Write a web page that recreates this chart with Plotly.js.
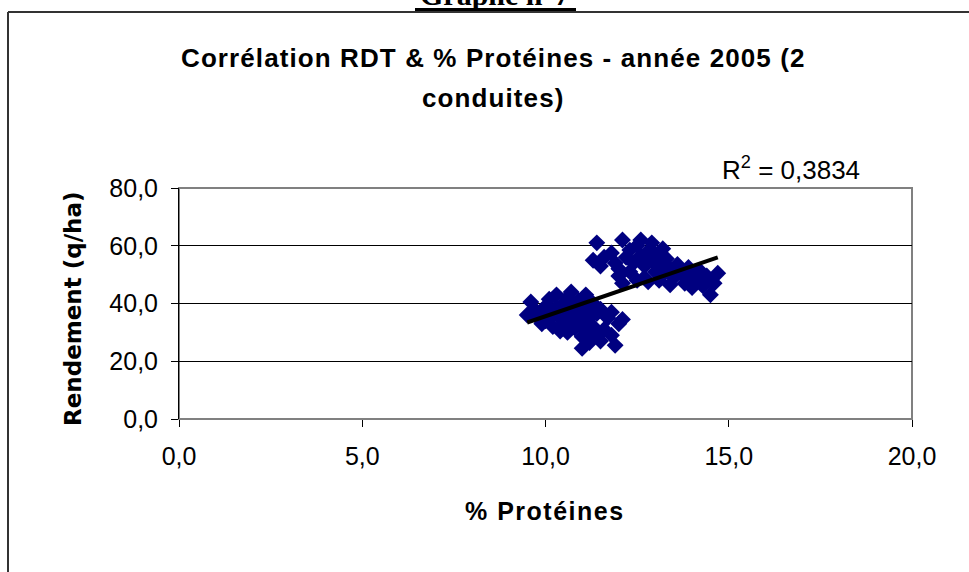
<!DOCTYPE html>
<html>
<head>
<meta charset="utf-8">
<script src="https://cdn.plot.ly/plotly-3.0.1.min.js"></script>
<style>html,body{margin:0;padding:0;background:#fff;}#chart{width:969px;height:572px;}</style>
</head>
<body>
<div id="chart"></div>
<script>
// % Protéines (x) and Rendement q/ha (y)
const proteinesA = [9.5,9.6,9.7,9.8,9.9,10.0,10.0,10.1,10.2,10.2,10.3,10.3,10.4,10.5,10.5,10.6,10.6,10.7,10.7,10.8,10.8,10.9,10.9,11.0,11.0,11.0,11.1,11.1,11.1,11.2,11.2,11.3,11.3,11.4,11.4,11.5,11.5,11.6,11.7,11.8,11.8,11.9,12.0,12.1,10.4,9.9,10.6];
const rendementA  = [36,40.5,38,35,37.5,39,34,41.5,36,32,43,38.5,35,40,33,37,42,44,34.5,39,31.5,36,41,33,28.5,24.5,43,38,30.5,35,26.5,40,32,29,36.5,38,27,31,35,37,29,25.5,33,34.5,30.5,33,30];
const proteinesB = [11.3,11.4,11.5,11.6,11.8,11.9,12.0,12.1,12.1,12.2,12.3,12.3,12.4,12.5,12.6,12.6,12.7,12.7,12.8,12.8,12.9,12.9,13.0,13.0,13.1,13.1,13.2,13.2,13.3,13.4,13.4,13.5,13.6,13.7,13.8,13.9,14.0,14.0,14.1,14.2,14.3,14.4,14.5,14.6,14.7,12.0,12.5];
const rendementB  = [55,61,53,56,57.5,54,52,62,47,56,58.5,51,54,60,62,56.5,49,53,58,47.5,61,55,51,57,48,53.5,59,50,55.5,46.5,52,49,53.5,50.5,47,52.5,45.5,50,48.5,51.5,46,49.5,43,47,50.5,49.5,48];
const xTicks = [0,5,10,15,20];
const yTicks = [0,20,40,60,80];
const pageLabel = "Graphe n°7";
const titleLine1 = "Corrélation RDT & % Protéines - année 2005 (2";
const titleLine2 = "conduites)";
const xTitle = "% Protéines";
const yTitle = "Rendement (q/ha)";
const r2Label = "R<sup>2</sup> = 0,3834";

const xs = proteinesA.concat(proteinesB);
const ys = rendementA.concat(rendementB);
// least-squares linear trend
const n = xs.length;
const mx = xs.reduce((a,b)=>a+b,0)/n, my = ys.reduce((a,b)=>a+b,0)/n;
let sxy=0, sxx=0;
for (let i=0;i<n;i++){ sxy+=(xs[i]-mx)*(ys[i]-my); sxx+=(xs[i]-mx)**2; }
const slope = sxy/sxx, icpt = my - slope*mx;
const xmin = Math.min(...xs), xmax = Math.max(...xs);
const trendX = [xmin, xmax], trendY = [icpt+slope*xmin, icpt+slope*xmax];

const W=969,H=572, L=179,R=912,T=188,B=419;
const px = v => (v-L)/(R-L);
const py = v => (B-v)/(B-T);
const font = "Liberation Sans, Arial, sans-serif";
const sp = (t, s) => '<span style="letter-spacing:' + s + 'px">' + t + '</span>';

const traces = [
  {x: xs, y: ys, type:'scatter', mode:'markers', cliponaxis:false,
   marker:{symbol:'diamond', size:13, color:'#000080', line:{width:0}}, hoverinfo:'none'},
  {x: trendX, y: trendY, type:'scatter', mode:'lines', line:{color:'#000000', width:4}, hoverinfo:'none'}
];

const layout = {
  width:W, height:H, showlegend:false,
  paper_bgcolor:'#ffffff', plot_bgcolor:'#ffffff',
  separators:', ',
  margin:{l:L, r:W-R, t:T, b:H-B, pad:0},
  font:{family:font, color:'#000'},
  xaxis:{range:[0,20], tickvals:xTicks, tickformat:'.1f', ticks:'outside', ticklen:7, tickcolor:'#000', tickwidth:1,
         showgrid:false, zeroline:false, showline:false, ticklabelstandoff:8,
         tickfont:{size:25, family:font}, fixedrange:true},
  yaxis:{range:[0,80], tickvals:yTicks, tickformat:'.1f', ticks:'outside', ticklen:7, tickcolor:'#000', tickwidth:1,
         showgrid:true, gridcolor:'#000000', gridwidth:1, zeroline:false, showline:true, linecolor:'#000', linewidth:1,
         ticklabelstandoff:8, tickfont:{size:25, family:font}, fixedrange:true},
  shapes:[
    {type:'rect', xref:'paper', yref:'paper', x0:0, x1:1, y0:0, y1:1, line:{color:'#808080', width:2}, layer:'below'},
    {type:'line', xref:'paper', yref:'paper', x0:px(8), x1:px(969), y0:py(12), y1:py(12), line:{color:'#333', width:2}},
    {type:'line', xref:'paper', yref:'paper', x0:px(8), x1:px(8), y0:py(12), y1:py(572), line:{color:'#333', width:2}},
    {type:'line', xref:'paper', yref:'paper', x0:px(415), x1:px(576), y0:py(9.5), y1:py(9.5), line:{color:'#000', width:3}}
  ],
  annotations:[
    {text:'<b>'+pageLabel+'</b>', xref:'paper', yref:'paper', x:px(495), y:py(13), xanchor:'center', yanchor:'bottom',
     showarrow:false, font:{family:'Liberation Serif, Times New Roman, serif', size:30}},
    {text:'<b>'+sp(titleLine1,1.1)+'</b>', xref:'paper', yref:'paper', x:px(493), y:py(58),
     xanchor:'center', yanchor:'middle', showarrow:false, font:{size:26, family:font}},
    {text:'<b>'+sp(titleLine2,1.1)+'</b>', xref:'paper', yref:'paper', x:px(493), y:py(98),
     xanchor:'center', yanchor:'middle', showarrow:false, font:{size:26, family:font}},
    {text:r2Label, xref:'paper', yref:'paper', x:px(720), y:py(168), xanchor:'left', yanchor:'middle',
     showarrow:false, font:{size:26, family:font}},
    {text:'<b>'+sp(xTitle,1.5)+'</b>', xref:'paper', yref:'paper', x:px(545), y:py(511), xanchor:'center', yanchor:'middle',
     showarrow:false, font:{size:25, family:font}},
    {text:'<b>'+yTitle+'</b>', xref:'paper', yref:'paper', x:px(73), y:py(309), xanchor:'center', yanchor:'middle',
     textangle:-90, showarrow:false, font:{size:23, family:'DejaVu Sans, Verdana, sans-serif'}}
  ]
};

Plotly.newPlot('chart', traces, layout, {staticPlot:true, displayModeBar:false});
</script>
</body>
</html>
